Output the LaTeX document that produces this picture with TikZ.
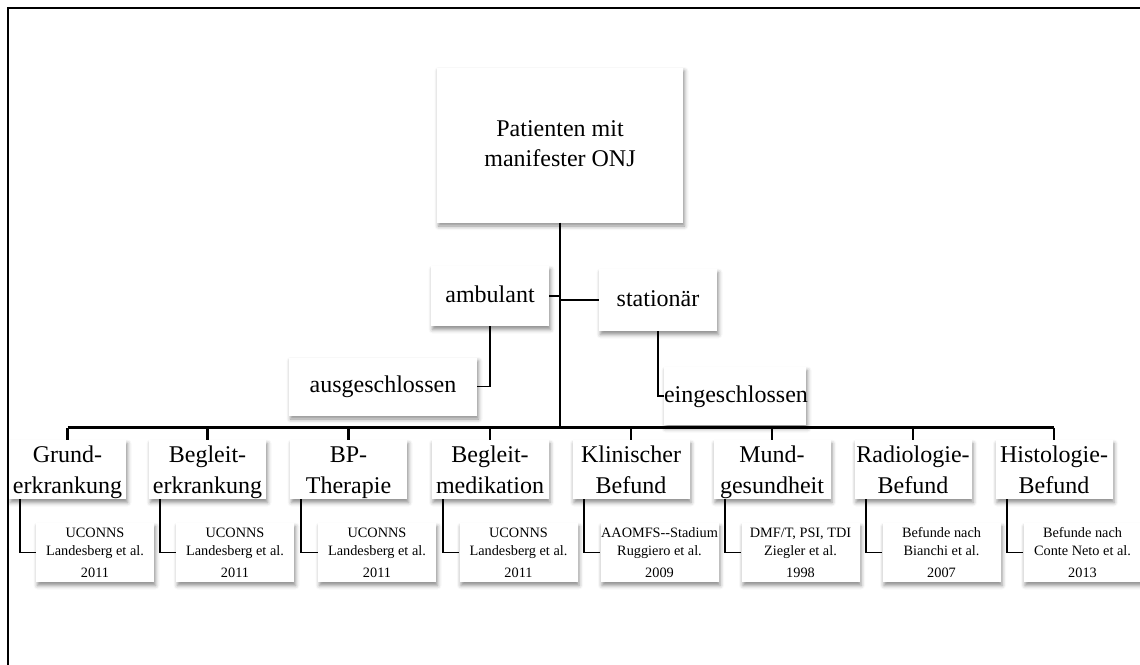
\documentclass[tikz,border=0pt]{standalone}
\usepackage{fontspec}
\setmainfont{Liberation Serif}
\usetikzlibrary{shadows.blur}
\newcommand\hstr[1]{\rule{0pt}{#1pt}}
\newcommand\dstr[1]{\rule[-#1pt]{0pt}{#1pt}}
\newcommand\chlines[2]{\hstr{22}#1\\#2\dstr{6}}
\newcommand\sublines[3]{\hstr{14}#1\\#2\\[4pt]#3\dstr{5}}
\begin{document}
\begin{tikzpicture}[x=1pt,y=-1pt,
  box/.style={fill=white, inner sep=0pt, align=center,
    blur shadow={shadow xshift=1.5pt, shadow yshift=-3.5pt, shadow blur radius=4pt, shadow opacity=45}},
  bigtxt/.style={font=\fontsize{24}{30}\selectfont},
  childtxt/.style={font=\fontsize{24}{31}\selectfont},
  smalltxt/.style={font=\fontsize{14.3}{18}\selectfont},
  childbox/.style={box, childtxt, minimum width=117pt, minimum height=59pt},
  subbox/.style={box, smalltxt, minimum width=118pt, minimum height=59pt},
  trunk/.style={line width=2.4pt},
  conn/.style={line width=1.7pt}]
\useasboundingbox (0,0) rectangle (1140,664);
% frame (only top and left edges visible)
\draw[line width=2pt] (1150,8) -- (8,8) -- (8,670);

% top node
\node[box, minimum width=246pt, minimum height=155pt, font=\fontsize{24}{30}\selectfont] (top) at (560,145) {\strut Patienten mit\\\strut manifester ONJ};

% second level
\node[box, bigtxt, minimum width=118pt, minimum height=60pt] (amb) at (490,296) {\strut ambulant};
\node[box, bigtxt, minimum width=118pt, minimum height=62pt] (stat) at (658,300) {\strut stationär};
\node[box, bigtxt, minimum width=188pt, minimum height=58pt] (aus) at (383,386.5) {\strut ausgeschlossen};
\node[box, bigtxt, minimum width=142pt, minimum height=58pt, text width=142pt] (ein) at (735,396) {\strut eingeschlossen};

\coordinate (busL) at (67.5,427.5);
\coordinate (busR) at (1054,427.5);

% children
\node[childbox] (c1) at (67.5,469.5) {\chlines{Grund-}{erkrankung}};
\node[childbox] (c2) at (207.5,469.5) {\chlines{Begleit-}{erkrankung}};
\node[childbox] (c3) at (348.5,469.5) {\chlines{BP-}{Therapie}};
\node[childbox] (c4) at (490,469.5) {\chlines{Begleit-}{medikation}};
\node[childbox] (c5) at (631,469.5) {\chlines{Klinischer}{Befund}};
\node[childbox] (c6) at (772,469.5) {\chlines{Mund-}{gesundheit}};
\node[childbox] (c7) at (913,469.5) {\chlines{Radiologie-}{Befund}};
\node[childbox] (c8) at (1054,469.5) {\chlines{Histologie-}{Befund}};

% sub boxes
\node[subbox, anchor=west] (s1) at ([xshift=27pt]c1.west |- 0,552.5) {\sublines{UCONNS}{Landesberg et al.}{2011}};
\node[subbox, anchor=west] (s2) at ([xshift=27pt]c2.west |- 0,552.5) {\sublines{UCONNS}{Landesberg et al.}{2011}};
\node[subbox, anchor=west] (s3) at ([xshift=28pt]c3.west |- 0,552.5) {\sublines{UCONNS}{Landesberg et al.}{2011}};
\node[subbox, anchor=west] (s4) at ([xshift=28pt]c4.west |- 0,552.5) {\sublines{UCONNS}{Landesberg et al.}{2011}};
\node[subbox, anchor=west] (s5) at ([xshift=28pt]c5.west |- 0,552.5) {\sublines{AAOMFS-{}-Stadium}{Ruggiero et al.}{2009}};
\node[subbox, anchor=west] (s6) at ([xshift=28pt]c6.west |- 0,552.5) {\sublines{DMF/T, PSI, TDI}{Ziegler et al.}{1998}};
\node[subbox, anchor=west] (s7) at ([xshift=28pt]c7.west |- 0,552.5) {\sublines{Befunde nach}{Bianchi et al.}{2007}};
\node[subbox, anchor=west] (s8) at ([xshift=28pt]c8.west |- 0,552.5) {\sublines{Befunde nach}{Conte Neto et al.}{2013}};

% connectors
\draw[trunk] (top.south) -- (top.south |- busL);
\draw[trunk] (busL) -- (busR);
\foreach \i in {1,...,8} {
  \draw[trunk] (c\i.north |- busL) -- (c\i.north);
  \draw[conn] ([xshift=11.5pt]c\i.south west) |- (s\i.west);
}
\draw[conn] (amb.east) -- (amb.east -| top.south);
\draw[conn] (stat.west) -- (stat.west -| top.south);
\draw[conn] (amb.south) |- (aus.east);
\draw[conn] (stat.south) |- (ein.west);
\end{tikzpicture}
\end{document}
